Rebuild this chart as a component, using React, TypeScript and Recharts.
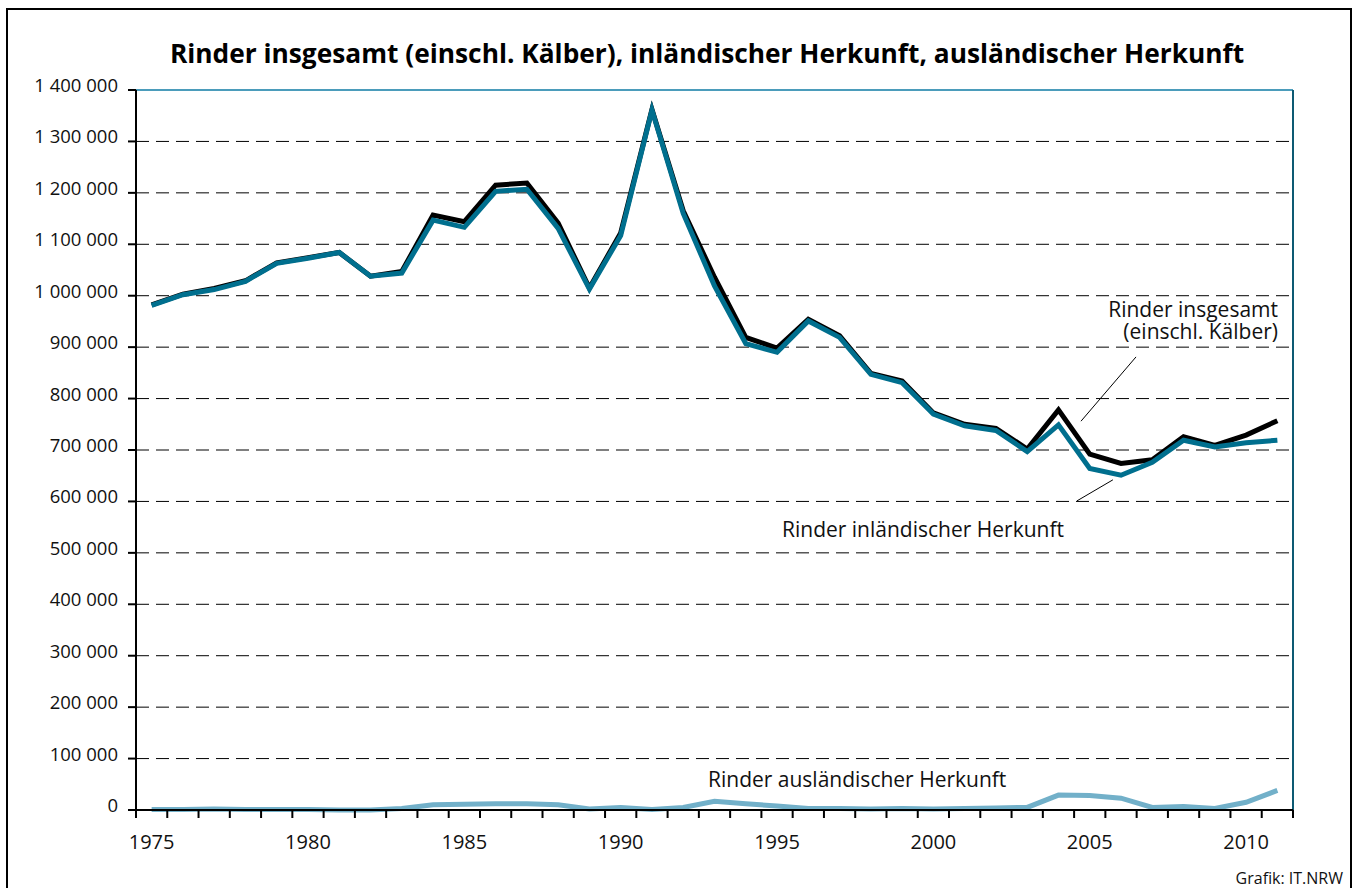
import React from "react";
import { LineChart, Line, XAxis, YAxis, CartesianGrid, ReferenceLine } from "recharts";

const years = [1975,1976,1977,1978,1979,1980,1981,1982,1983,1984,1985,1986,1987,1988,1989,1990,1991,1992,1993,1994,1995,1996,1997,1998,1999,2000,2001,2002,2003,2004,2005,2006,2007,2008,2009,2010,2011];
const total = [982000,1003000,1014000,1029000,1064000,1074000,1084000,1038000,1047000,1157000,1144000,1215000,1219000,1141000,1015000,1122000,1362000,1165000,1036000,919000,898000,954000,922000,849000,834000,772000,750000,742000,702000,778000,692000,674000,681000,726000,709000,729000,757000];
const domestic = [981000,1002000,1012000,1028000,1063000,1073000,1084000,1038000,1044000,1147000,1133000,1203000,1207000,1131000,1013000,1117000,1361000,1160000,1019000,907000,890000,951000,919000,847000,831000,770000,747000,738000,697000,749000,664000,651000,676000,719000,706000,714000,719000];
const foreign = [1000,1000,2000,1000,1000,1000,0,0,3000,10000,11000,12000,12000,10000,2000,5000,1000,5000,17000,12000,8000,3000,3000,2000,3000,2000,3000,4000,5000,29000,28000,23000,5000,7000,3000,15000,38000];

const labelYears = [1975,1980,1985,1990,1995,2000,2005,2010];
const boundaryTicks = [...years.map((y) => y - 0.5), years[years.length - 1] + 0.5];
const yTicks = [0,100000,200000,300000,400000,500000,600000,700000,800000,900000,1000000,1100000,1200000,1300000,1400000];

const data = years.map((year, i) => ({ year, total: total[i], domestic: domestic[i], foreign: foreign[i] }));

const FONT = "'Open Sans', 'Noto Sans', sans-serif";

const fmt = (v: number) => String(v).replace(/\B(?=(\d{3})+(?!\d))/g, " ");

const XTick = (props: any) => {
  const { x, y, payload } = props;
  const v = payload.value as number;
  if (v % 1 !== 0) {
    return <line x1={x} x2={x} y1={y} y2={y + 8} stroke="#000" strokeWidth={2} />;
  }
  return (
    <text x={x} y={y + 39} textAnchor="middle" fontFamily={FONT} fontSize={20} fill="#111">
      {v}
    </text>
  );
};

const YTick = (props: any) => {
  const { x, y, payload } = props;
  return (
    <g>
      <line x1={x - 8} x2={x} y1={y} y2={y} stroke="#000" strokeWidth={2} />
      <text x={x - 18} y={y + 2} textAnchor="end" fontFamily={FONT} fontSize={18.5} fill="#111">
        {fmt(payload.value)}
      </text>
    </g>
  );
};

export default function App() {
  return (
    <div style={{ position: "absolute", left: 0, top: 0, width: 1356, height: 888, overflow: "hidden", background: "#fff" }}>
      <div style={{ position: "absolute", left: 6, top: 8, width: 1346, height: 900, border: "2px solid #000", boxSizing: "border-box" }} />
      <div style={{ position: "absolute", left: 0, top: 0 }}>
        <LineChart width={1356} height={888} data={data} margin={{ top: 90, right: 63, bottom: 0, left: 0 }}>
          <CartesianGrid horizontal vertical={false} stroke="#000" strokeDasharray="13 7" strokeWidth={1} />
          <ReferenceLine y={1400000} stroke="#4b9cbb" strokeWidth={2} />
          <ReferenceLine x={2011.5} stroke="#0d5a73" strokeWidth={2} />
          <XAxis
            dataKey="year"
            type="number"
            domain={[1974.5, 2011.5]}
            ticks={[...boundaryTicks, ...labelYears]}
            interval={0}
            height={78}
            tickSize={0}
            tickMargin={0}
            tickLine={false}
            axisLine={{ stroke: "#000", strokeWidth: 2 }}
            tick={XTick}
          />
          <YAxis
            type="number"
            domain={[0, 1400000]}
            ticks={yTicks}
            interval={0}
            width={136}
            tickSize={0}
            tickMargin={0}
            tickLine={false}
            axisLine={{ stroke: "#000", strokeWidth: 2 }}
            tick={YTick}
          />
          <ReferenceLine segment={[{ x: 2006.48, y: 881000 }, { x: 2004.72, y: 756000 }]} stroke="#000" strokeWidth={1} />
          <ReferenceLine segment={[{ x: 2005.74, y: 642000 }, { x: 2004.59, y: 601000 }]} stroke="#000" strokeWidth={1} />
          <Line dataKey="foreign" stroke="#72b0c9" strokeWidth={5} dot={false} isAnimationActive={false} type="linear" />
          <Line dataKey="total" stroke="#000" strokeWidth={5} dot={false} isAnimationActive={false} type="linear" />
          <Line dataKey="domestic" stroke="#006f8e" strokeWidth={5} dot={false} isAnimationActive={false} type="linear" />
        </LineChart>
      </div>
      <svg width={1356} height={888} style={{ position: "absolute", left: 0, top: 0, pointerEvents: "none" }}>
        <text x={707} y={63} textAnchor="middle" fontFamily={FONT} fontWeight="bold" fontSize={26.3} fill="#000">
          Rinder insgesamt (einschl. Kälber), inländischer Herkunft, ausländischer Herkunft
        </text>
        <text x={1278} y={317} textAnchor="end" fontFamily={FONT} fontSize={21} fill="#111">Rinder insgesamt</text>
        <text x={1278} y={339} textAnchor="end" fontFamily={FONT} fontSize={21} fill="#111">(einschl. Kälber)</text>
        <text x={782} y={537} textAnchor="start" fontFamily={FONT} fontSize={21} fill="#111">Rinder inländischer Herkunft</text>
        <text x={708} y={787} textAnchor="start" fontFamily={FONT} fontSize={21} fill="#111">Rinder ausländischer Herkunft</text>
        <text x={1343} y={884} textAnchor="end" fontFamily={FONT} fontSize={16} fill="#111">Grafik: IT.NRW</text>
      </svg>
    </div>
  );
}
